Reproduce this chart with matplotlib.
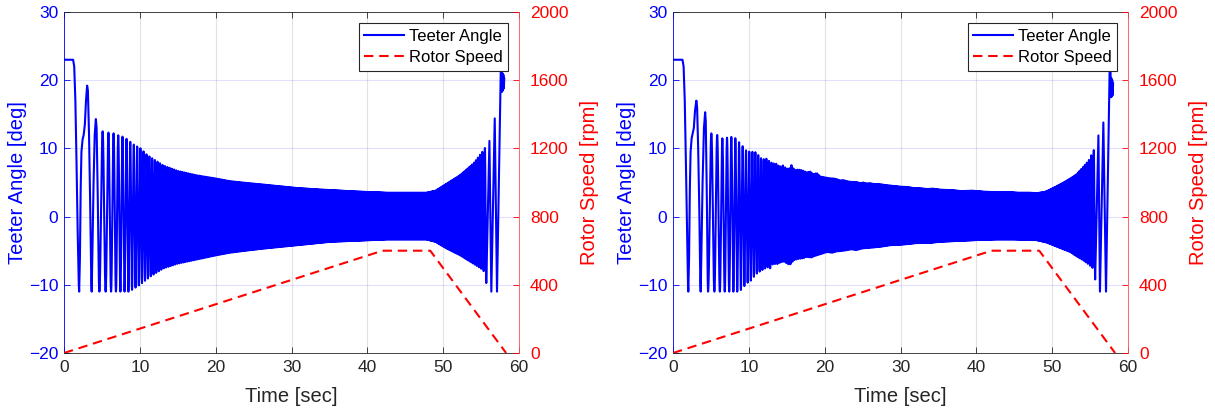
import numpy as np
import matplotlib
matplotlib.use("Agg")
import matplotlib.pyplot as plt

plt.rcParams["font.family"] = ["Liberation Sans", "DejaVu Sans"]

# rotor speed schedule: spin-up, hold, spin-down  (sec, rpm)
rpm_time = [0.0, 42.0, 48.3, 58.3]
rpm_value = [0.0, 600.0, 600.0, 0.0]

# ---------------- run 1 ----------------
# hub resting on the stop, then the first flaps  (sec, deg)
left_start = [(0.0, 23.0), (1.2, 23.0), (1.35, 22.0), (1.5, 17.0), (1.65, 8.0),
              (1.8, -2.0), (1.95, -10.0), (2.0, -11.0), (2.1, -6.0), (2.2, 4.0),
              (2.3, 9.5), (2.45, 11.3), (2.6, 12.0), (2.75, 13.5), (2.9, 17.0),
              (3.05, 19.2), (3.15, 18.5), (3.3, 12.0), (3.45, 2.0), (3.6, -9.5),
              (3.65, -11.0), (3.75, -5.0), (3.9, 5.0), (4.05, 12.0), (4.2, 14.3),
              (4.3, 13.0), (4.45, 3.0), (4.6, -9.5), (4.66, -11.0)]
# upper / lower envelope of the once-per-rev teeter motion  (sec, deg)
left_upper = [(4.66, 12.5), (5.14, 12.5), (5.93, 12.3), (6.59, 12.2), (7.2, 11.9),
              (7.8, 11.7), (8.4, 11.3), (8.9, 10.8), (9.4, 10.4), (10.0, 10.1),
              (11.0, 9.0), (13.1, 7.5), (15.0, 6.7), (17.5, 6.06), (20.0, 5.6),
              (21.9, 5.2), (24.0, 4.95), (26.3, 4.7), (28.5, 4.45), (30.7, 4.2),
              (33.8, 3.97), (35.1, 3.9), (38.2, 3.7), (42.6, 3.5), (47.8, 3.5),
              (49.0, 3.8), (50.5, 4.85), (52.2, 6.06), (54.0, 7.8), (55.3, 9.7),
              (56.1, 11.1), (56.8, 14.4)]
left_lower = [(4.66, -11.0), (8.6, -11.0), (10.0, -10.0), (11.5, -8.7), (13.1, -7.6),
              (15.0, -6.9), (17.5, -6.3), (20.0, -5.7), (21.9, -5.3), (24.0, -5.0),
              (26.3, -4.7), (28.5, -4.45), (30.7, -4.2), (33.8, -3.85), (35.1, -3.7),
              (38.2, -3.56), (42.6, -3.35), (47.8, -3.35), (49.0, -3.7), (50.5, -4.7),
              (52.2, -5.65), (54.0, -6.9), (55.3, -7.85), (55.8, -10.3), (56.3, -11.0),
              (57.1, -11.0)]
# last flaps while the rotor stops, hub drops back on the stop
left_tail = [(56.1, 11.1), (56.35, -11.0), (56.8, 14.4), (57.1, -11.0), (57.62, 23.0),
             (57.7, 23.0), (57.76, 18.3), (57.82, 21.0), (57.88, 18.5), (57.94, 20.8),
             (58.0, 18.8), (58.05, 20.2)]

# ---------------- run 2 ----------------
right_start = [(0.0, 23.0), (1.25, 23.0), (1.4, 22.0), (1.55, 17.0), (1.7, 8.0),
               (1.85, -2.0), (1.98, -10.0), (2.02, -11.0), (2.12, -6.0), (2.22, 4.0),
               (2.32, 9.5), (2.46, 11.5), (2.6, 12.2), (2.75, 13.0), (2.9, 15.5),
               (3.08, 17.0), (3.18, 16.0), (3.32, 10.0), (3.47, 1.0), (3.6, -9.5),
               (3.65, -11.0), (3.75, -5.0), (3.9, 5.0), (4.08, 13.0), (4.24, 15.3),
               (4.32, 14.0), (4.46, 3.0), (4.58, -9.5), (4.62, -11.0)]
right_upper = [(4.62, 12.2), (5.2, 12.2), (6.0, 11.9), (6.6, 11.4), (7.2, 11.6),
               (7.8, 11.7), (8.4, 11.4), (8.84, 10.7), (9.3, 10.2), (9.7, 9.6),
               (10.2, 9.5), (10.6, 9.5), (11.0, 9.4), (11.5, 8.6), (12.0, 8.4),
               (12.35, 8.5), (12.8, 8.0), (13.2, 7.8), (13.6, 7.75), (14.1, 7.3),
               (14.5, 7.5), (15.0, 7.0), (15.4, 7.1), (15.65, 7.6), (16.0, 6.8),
               (16.5, 6.9), (17.0, 6.8), (17.6, 6.5), (18.1, 6.6), (18.5, 6.2),
               (18.95, 6.4), (19.4, 5.9), (19.8, 5.8), (20.3, 5.7), (20.8, 5.6),
               (21.15, 5.6), (21.6, 5.5), (22.0, 5.3), (22.5, 5.35), (22.9, 5.2),
               (23.4, 5.1), (23.8, 5.1), (24.3, 5.05), (24.7, 4.9), (25.1, 5.0),
               (25.5, 4.85), (26.0, 4.9), (26.4, 4.8), (27.3, 4.75), (28.2, 4.6),
               (29.1, 4.5), (29.9, 4.4), (30.8, 4.35), (31.7, 4.2), (32.6, 4.15),
               (33.5, 4.05), (34.3, 4.1), (35.2, 3.95), (36.5, 3.9), (38.0, 3.75),
               (39.5, 3.8), (41.0, 3.65), (42.7, 3.6), (44.0, 3.6), (45.5, 3.5),
               (47.0, 3.5), (48.0, 3.45), (49.0, 3.6), (49.8, 4.0), (50.6, 4.45),
               (51.5, 5.0), (52.4, 5.6), (53.2, 6.2), (54.1, 7.3), (54.8, 8.2),
               (55.6, 10.0), (56.1, 11.9), (56.95, 13.9)]
right_lower = [(4.62, -11.0), (8.6, -11.0), (9.2, -10.6), (9.6, -9.8), (10.15, -9.55),
               (10.6, -8.9), (11.0, -8.4), (11.5, -8.0), (12.0, -7.7), (12.4, -7.4),
               (12.8, -7.6), (13.2, -6.9), (13.7, -7.0), (14.2, -6.7), (14.6, -6.6),
               (15.4, -7.1), (15.9, -6.4), (16.5, -6.2), (17.2, -6.1), (17.6, -5.9),
               (18.2, -6.0), (18.9, -5.7), (19.5, -5.5), (20.3, -5.2), (21.0, -5.3),
               (21.6, -5.1), (22.0, -5.07), (22.8, -4.95), (23.5, -4.8), (24.2, -4.9),
               (24.9, -4.68), (25.6, -4.6), (26.4, -4.53), (27.5, -4.4), (28.6, -4.2),
               (29.7, -4.15), (30.8, -4.05), (32.0, -3.9), (33.0, -3.85), (33.9, -3.85),
               (35.2, -3.7), (37.0, -3.6), (39.0, -3.5), (41.0, -3.4), (42.7, -3.35),
               (45.0, -3.35), (47.96, -3.45), (49.3, -3.8), (50.6, -4.4), (51.5, -4.8),
               (52.4, -5.2), (53.2, -5.8), (54.1, -6.4), (54.8, -7.0), (55.4, -7.6),
               (55.8, -10.0), (56.3, -11.0), (57.1, -11.0)]
right_tail = [(56.1, 11.9), (56.3, -11.0), (56.75, 13.8), (57.1, -11.0), (57.6, 23.0),
              (57.68, 23.0), (57.74, 17.5), (57.8, 20.3), (57.86, 17.6), (57.92, 20.0),
              (57.98, 17.8), (58.03, 19.5)]


def teeter_trace(start, upper, lower, tail, dt=0.001):
    """Stitch start-up flaps, once-per-rev motion inside the envelope, and the stop."""
    t = np.arange(0.0, 58.0, dt)
    rpm = np.interp(t, rpm_time, rpm_value)
    revs = np.concatenate([[0.0], np.cumsum(0.5 * (rpm[1:] + rpm[:-1]) / 60.0 * dt)])

    t0 = start[-1][0]
    # rotor phase in revolutions, trough (cos = -1) at the last start-up flap
    cyc = revs - np.interp(t0, t, revs) + 0.5
    k = np.floor(np.interp(tail[0][0] - 0.12, t, cyc) - 0.5)
    t_cut = np.interp(k + 0.5, cyc, t)

    m = (t > t0) & (t <= t_cut)
    tg = t[m]
    ut, uv = zip(*upper)
    lt, lv = zip(*lower)
    up = np.interp(tg, ut, uv)
    lo = np.interp(tg, lt, lv)
    ang = 0.5 * (up + lo) + 0.5 * (up - lo) * np.cos(2 * np.pi * cyc[m])

    st, sv = zip(*start)
    tt, tv = zip(*tail)
    return (np.concatenate([st, tg, tt]),
            np.concatenate([sv, ang, tv]))


def draw_panel(ax, t, ang):
    dark = "#262626"
    h1, = ax.plot(t, ang, color="blue", lw=1.5, label="Teeter Angle")
    ax.set_xlim(0, 60)
    ax.set_ylim(-20, 30)
    ax.set_xticks(np.arange(0, 61, 10))
    ax.set_yticks(np.arange(-20, 31, 10))
    ax.set_axisbelow(True)
    ax.xaxis.grid(True, color=dark, alpha=0.13, lw=0.8)
    ax.yaxis.grid(True, color="blue", alpha=0.12, lw=0.8)
    ax.tick_params(axis="x", direction="in", length=4, width=0.6, colors=dark,
                   top=True, labelsize=12.5, pad=5)
    ax.tick_params(axis="y", direction="in", length=4, width=0.6, colors="blue",
                   labelsize=12.5, pad=4)
    ax.set_xlabel("Time [sec]", fontsize=14.5, color=dark, labelpad=9)
    ax.set_ylabel("Teeter Angle [deg]", fontsize=14.5, color="blue")
    ax.yaxis.set_label_coords(-0.081, 0.5)
    for s in ("top", "bottom"):
        ax.spines[s].set_color(dark)
        ax.spines[s].set_linewidth(0.6)
    ax.spines["left"].set_color("blue")
    ax.spines["left"].set_linewidth(0.6)
    ax.spines["right"].set_visible(False)

    ax2 = ax.twinx()
    h2, = ax2.plot(rpm_time, rpm_value, color="red", lw=1.5,
                   ls=(0, (4.5, 2.8)), label="Rotor Speed")
    ax2.set_ylim(0, 2000)
    ax2.set_yticks(np.arange(0, 2001, 400))
    ax2.tick_params(axis="y", direction="in", length=4, width=0.6, colors="red",
                    labelsize=12.5, pad=8)
    ax2.set_ylabel("Rotor Speed [rpm]", fontsize=14.5, color="red", labelpad=8)
    for s in ("top", "bottom", "left"):
        ax2.spines[s].set_visible(False)
    ax2.spines["right"].set_color("#ff5050")
    ax2.spines["right"].set_linewidth(0.6)

    leg = ax2.legend(handles=[h1, h2], loc="upper right", fontsize=12,
                     fancybox=False, framealpha=1, edgecolor=dark,
                     handlelength=2.4, handletextpad=0.25, borderpad=0.35,
                     labelspacing=0.4, borderaxespad=0.65)
    leg.get_frame().set_linewidth(0.8)


fig = plt.figure(figsize=(12.15, 4.16), dpi=100)
ax_l = fig.add_axes([64 / 1215, 63 / 416, 455 / 1215, 341 / 416])
ax_r = fig.add_axes([673 / 1215, 63 / 416, 455 / 1215, 341 / 416])

draw_panel(ax_l, *teeter_trace(left_start, left_upper, left_lower, left_tail))
draw_panel(ax_r, *teeter_trace(right_start, right_upper, right_lower, right_tail))

fig.savefig("out.png", dpi=100)
